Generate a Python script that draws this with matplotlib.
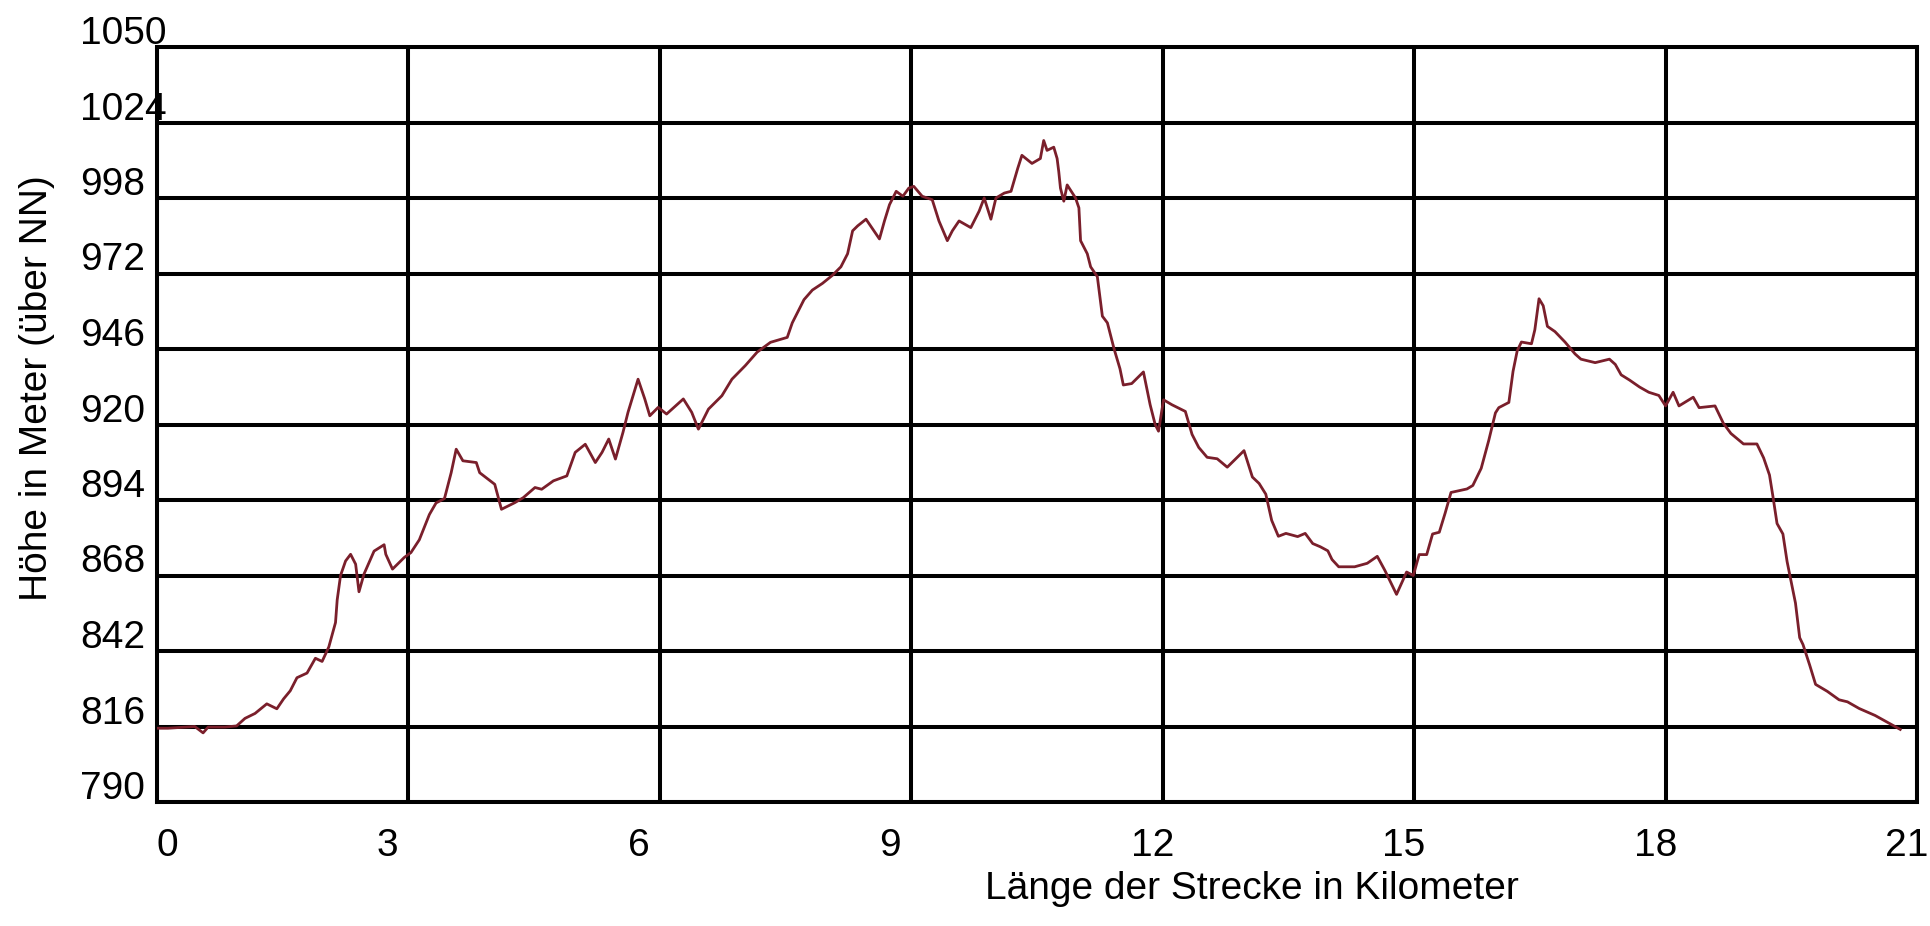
import matplotlib
matplotlib.use("Agg")
import matplotlib.pyplot as plt
from matplotlib.transforms import ScaledTranslation, blended_transform_factory

# Höhenprofil (km, m über NN)
KM = [0.00, 0.13, 0.45, 0.55, 0.61, 0.81, 0.95, 1.05, 1.17, 1.31, 1.43, 1.51,
      1.59, 1.67, 1.79, 1.89, 1.97, 2.05, 2.13, 2.15, 2.19, 2.25, 2.31, 2.37,
      2.41, 2.47, 2.59, 2.71, 2.73, 2.81, 2.95, 3.03, 3.13, 3.25, 3.33, 3.43,
      3.51, 3.57, 3.65, 3.81, 3.85, 4.03, 4.11, 4.27, 4.37, 4.51, 4.59, 4.73,
      4.89, 4.99, 5.11, 5.23, 5.31, 5.39, 5.47, 5.56, 5.62, 5.68, 5.74, 5.82,
      5.88, 5.98, 6.08, 6.28, 6.38, 6.46, 6.58, 6.74, 6.86, 7.02, 7.16, 7.32,
      7.52, 7.58, 7.66, 7.72, 7.82, 7.94, 8.06, 8.16, 8.24, 8.30, 8.36, 8.46,
      8.58, 8.62, 8.68, 8.74, 8.82, 8.90, 8.97, 9.03, 9.13, 9.25, 9.33, 9.43,
      9.49, 9.57, 9.71, 9.81, 9.87, 9.95, 10.01, 10.11, 10.19, 10.27, 10.32,
      10.44, 10.54, 10.58, 10.62, 10.70, 10.74, 10.76, 10.78, 10.82, 10.86,
      10.96, 11.00, 11.02, 11.10, 11.14, 11.22, 11.28, 11.34, 11.42, 11.49,
      11.53, 11.63, 11.77, 11.85, 11.91, 11.95, 12.01, 12.11, 12.27, 12.35,
      12.43, 12.53, 12.65, 12.77, 12.97, 13.07, 13.15, 13.23, 13.30, 13.38,
      13.47, 13.61, 13.70, 13.79, 13.88, 13.97, 14.02, 14.10, 14.29, 14.44,
      14.56, 14.65, 14.79, 14.91, 14.99, 15.06, 15.15, 15.22, 15.30, 15.37,
      15.44, 15.63, 15.70, 15.80, 15.89, 15.97, 16.01, 16.13, 16.18, 16.23,
      16.28, 16.40, 16.44, 16.49, 16.54, 16.59, 16.68, 16.80, 16.92, 16.99,
      17.16, 17.33, 17.40, 17.47, 17.57, 17.69, 17.80, 17.92, 18.00, 18.09,
      18.16, 18.33, 18.40, 18.59, 18.69, 18.78, 18.93, 19.09, 19.17, 19.24,
      19.28, 19.33, 19.40, 19.45, 19.50, 19.55, 19.60, 19.64, 19.72, 19.79,
      19.93, 20.07, 20.17, 20.31, 20.50, 20.65, 20.80]
HOEHE = [815.4, 815.4, 816.0, 813.8, 815.8, 815.8, 816.2, 818.8, 820.5, 823.8,
         822.1, 825.5, 828.3, 832.8, 834.4, 839.5, 838.4, 843.4, 851.8, 859.6,
         868.0, 873.0, 875.3, 871.9, 862.4, 868.5, 876.4, 878.6, 875.3, 870.2,
         874.2, 875.9, 880.3, 889.0, 893.0, 894.5, 903.4, 911.5, 907.5, 906.9,
         903.4, 899.4, 890.8, 893.1, 894.8, 898.3, 897.7, 900.6, 902.3, 910.4,
         913.2, 906.9, 910.4, 915.0, 908.1, 917.3, 924.2, 929.9, 935.6, 928.8,
         923.0, 925.9, 923.6, 928.8, 924.2, 918.4, 925.3, 929.9, 935.6, 940.3,
         944.9, 948.3, 950.0, 955.0, 959.6, 963.0, 966.3, 968.6, 971.4, 974.3,
         978.8, 986.7, 988.4, 990.7, 985.6, 983.9, 990.1, 995.7, 1000.3, 998.6,
         1001.4, 1002.0, 998.6, 997.4, 990.1, 983.3, 986.7, 990.1, 987.8, 993.5,
         998.0, 990.7, 998.0, 999.7, 1000.3, 1008.2, 1012.7, 1009.9, 1011.6,
         1017.8, 1014.4, 1015.5, 1011.6, 1007.0, 1001.4, 996.9, 1002.5, 998.0,
         994.6, 983.3, 978.8, 974.3, 970.9, 957.3, 955.0, 946.0, 939.2, 933.6,
         934.1, 938.1, 926.8, 920.0, 917.7, 928.5, 926.8, 924.5, 916.6, 912.1,
         908.7, 908.2, 905.3, 911.0, 901.9, 899.7, 896.0, 887.0, 881.5, 882.5,
         881.4, 882.5, 879.0, 877.9, 876.5, 873.5, 871.0, 871.0, 872.2, 874.6,
         869.8, 861.5, 869.2, 868.0, 875.2, 875.2, 882.3, 882.9, 889.5, 896.6,
         897.8, 899.0, 904.9, 914.5, 924.0, 925.8, 927.6, 938.3, 945.4, 948.4,
         947.8, 952.6, 963.3, 960.9, 953.8, 952.0, 948.4, 944.3, 942.5, 941.3,
         942.5, 940.7, 937.1, 935.3, 932.9, 931.1, 930.0, 926.4, 931.1, 926.4,
         929.4, 925.8, 926.4, 920.4, 916.9, 913.3, 913.3, 908.5, 902.6, 895.4,
         885.9, 882.3, 872.8, 865.6, 858.5, 846.6, 844.2, 837.1, 830.5, 828.1,
         825.2, 824.5, 822.2, 819.8, 817.4, 815.0]

X_TICKS = list(range(0, 22, 3))
Y_TICKS = list(range(790, 1051, 26))
X_LABEL = "Länge der Strecke in Kilometer"
Y_LABEL = "Höhe in Meter (über NN)"

plt.rcParams["font.family"] = ["Liberation Sans", "DejaVu Sans"]
DPI = 100
FS = 28

fig = plt.figure(figsize=(19.3, 9.26), dpi=DPI)
ax = fig.add_axes([157 / 1930, 124 / 926, 1760 / 1930, 755 / 926])

ax.plot(KM, HOEHE, color="#7a1f2b", lw=2.0, zorder=3)
ax.set_xlim(0, 21)
ax.set_ylim(790, 1050)
ax.set_xticks(X_TICKS)
ax.set_yticks(Y_TICKS)
ax.grid(True, color="black", lw=2.9)
ax.tick_params(length=0, labelbottom=False, labelleft=False)
for s in ax.spines.values():
    s.set_linewidth(2.9)

# y labels: left-aligned, sitting just above their grid line
ytrans = blended_transform_factory(fig.transFigure, ax.transData)
for v in Y_TICKS:
    ax.text(80 / 1930, v, str(v), fontsize=FS, ha="left", va="baseline",
            transform=ytrans + ScaledTranslation(0, 3 / DPI, fig.dpi_scale_trans),
            clip_on=False)

# x labels: start a bit left of the grid line (except the first one)
for k in X_TICKS:
    dx = 0 if k == 0 else -32
    ax.text(k, 0, str(k), fontsize=FS, ha="left", va="baseline",
            transform=ax.get_xaxis_transform()
            + ScaledTranslation(dx / DPI, -54 / DPI, fig.dpi_scale_trans),
            clip_on=False)

fig.text(985 / 1930, 1 - 899 / 926, X_LABEL, fontsize=FS, ha="left", va="baseline")
fig.text(37 / 1930, 1 - 388 / 926, Y_LABEL, fontsize=FS, rotation=90,
         ha="center", va="center")

fig.savefig("out.png", dpi=DPI)
